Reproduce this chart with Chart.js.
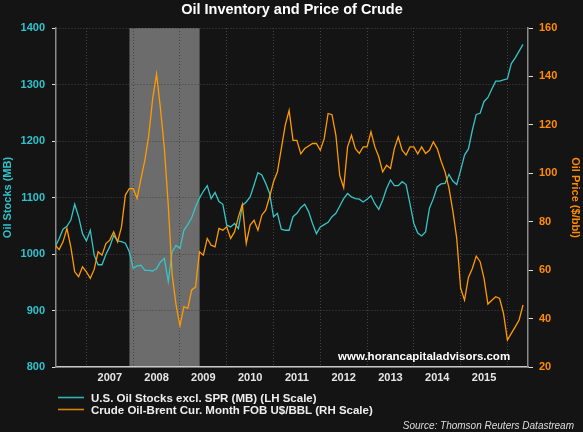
<!DOCTYPE html>
<html>
<head>
<meta charset="utf-8">
<script src="https://cdn.jsdelivr.net/npm/chart.js@4.4.1/dist/chart.umd.min.js"></script>
<style>
    html, body { margin: 0; padding: 0; background: #141414; }
    canvas { display: block; }
</style>
</head>
<body>
<canvas id="chartOil" width="583" height="432"></canvas>
<script>
// monthly readings, May 2006 .. May 2016
const stocks = [
    1013, 1027, 1044, 1049, 1060, 1088, 1066, 1036,
    1023, 1042, 998, 981, 981, 999, 1013, 1033, 1023, 1022, 1019, 1004,
    975, 979, 980, 971, 971, 970, 974, 986, 992, 951, 1004, 1015,
    1010, 1042, 1052, 1064, 1083, 1099, 1111, 1121, 1098, 1109, 1093, 1088,
    1051, 1048, 1054, 1045, 1086, 1092, 1101, 1122, 1144, 1140, 1125, 1107,
    1066, 1072, 1044, 1042, 1042, 1066, 1072, 1082, 1088, 1075, 1054, 1036,
    1048, 1052, 1056, 1066, 1072, 1085, 1098, 1107, 1101, 1098, 1097, 1092,
    1097, 1103, 1089, 1079, 1095, 1116, 1131, 1121, 1121, 1128, 1123, 1089,
    1054, 1037, 1032, 1039, 1081, 1098, 1119, 1124, 1125, 1141, 1129, 1123,
    1148, 1175, 1186, 1219, 1247, 1249, 1270, 1277, 1292, 1306, 1306, 1308,
    1310, 1337, 1347, 1359, 1371
];

const brent = [
    70.3, 68.5, 71.7, 77.2, 69.6, 59.3, 57.3, 61.4,
    59.3, 56.6, 60.3, 67.6, 66.2, 71.0, 72.4, 75.8, 71.7, 77.9, 91.0, 93.7,
    93.7, 89.6, 97.8, 105.4, 115.7, 130.8, 141.0, 126.7, 110.2, 86.8, 58.0, 45.6,
    37.0, 44.9, 44.2, 51.8, 53.0, 67.6, 66.2, 73.1, 70.3, 69.6, 77.2, 76.5,
    77.9, 73.1, 75.8, 82.0, 87.1, 71.0, 78.6, 80.6, 76.5, 82.7, 84.8, 90.3,
    96.5, 100.6, 110.2, 119.8, 126.0, 113.6, 113.6, 108.0, 110.2, 111.3, 112.3, 112.3,
    109.5, 114.3, 124.7, 124.2, 115.7, 99.0, 94.0, 110.9, 115.7, 110.2, 108.2, 110.9,
    110.9, 117.1, 110.9, 106.8, 100.6, 103.3, 102.0, 110.2, 115.0, 109.5, 107.5, 110.9,
    110.9, 108.0, 110.9, 108.2, 109.5, 113.0, 110.2, 105.0, 100.6, 94.0, 84.5, 73.1,
    52.5, 47.6, 57.0, 60.7, 65.8, 63.5, 56.6, 46.0, 47.6, 49.0, 48.3, 42.1,
    31.1, 33.9, 36.6, 39.4, 45.6
];

// decimal year of each reading
const months = stocks.map((_, i) => 2006 + (4 + i) / 12);

const yearLabels = [2007, 2008, 2009, 2010, 2011, 2012, 2013, 2014, 2015];
const yearBounds = [2007, 2008, 2009, 2010, 2011, 2012, 2013, 2014, 2015, 2016];
const recession = [2007.92, 2009.42];

const colorStocks = '#36c4c6';
const colorBrent = '#ff9a00';
const fontFam = '"Liberation Sans", Arial, sans-serif';

const decoraciones = {
    id: 'decoraciones',
    beforeDraw(chart) {
        const { ctx, chartArea: a, scales: { x } } = chart;
        ctx.save();
        ctx.fillStyle = '#141414';
        ctx.fillRect(0, 0, chart.width, chart.height);
        const x1 = x.getPixelForValue(recession[0]);
        const x2 = x.getPixelForValue(recession[1]);
        ctx.fillStyle = '#6c6c6c';
        ctx.fillRect(x1, a.top, x2 - x1, a.bottom - a.top);
        ctx.restore();
    },
    afterDraw(chart) {
        const ctx = chart.ctx;
        ctx.save();
        // titulo
        ctx.fillStyle = '#ffffff';
        ctx.font = 'bold 14.5px ' + fontFam;
        ctx.textAlign = 'center';
        ctx.fillText('Oil Inventory and Price of Crude', 292, 14);

        // marca
        ctx.textAlign = 'left';
        ctx.font = 'bold 11.5px ' + fontFam;
        ctx.fillText('www.horancapitaladvisors.com', 338, 360);

        // leyenda
        ctx.lineWidth = 1.6;
        ctx.strokeStyle = '#2fb3b5';
        ctx.beginPath(); ctx.moveTo(58, 397.5); ctx.lineTo(84, 397.5); ctx.stroke();
        ctx.strokeStyle = '#d98300';
        ctx.beginPath(); ctx.moveTo(58, 409.5); ctx.lineTo(84, 409.5); ctx.stroke();
        ctx.fillStyle = '#eeeeee';
        ctx.fillText('U.S. Oil Stocks excl. SPR (MB) (LH Scale)', 91, 401.5);
        ctx.fillText('Crude Oil-Brent Cur. Month FOB U$/BBL (RH Scale)', 91, 414.3);

        // fuente
        ctx.textAlign = 'right';
        ctx.font = 'italic 10px ' + fontFam;
        ctx.fillStyle = '#dddddd';
        ctx.fillText('Source: Thomson Reuters Datastream', 574, 428.5);
        ctx.restore();
    }
};

const xTicks = yearBounds.concat(yearLabels.map(y => y + 0.5));

new Chart(document.getElementById('chartOil').getContext('2d'), {
    type: 'line',
    data: {
        datasets: [
            {
                label: 'U.S. Oil Stocks excl. SPR (MB) (LH Scale)',
                data: months.map((t, i) => ({ x: t, y: stocks[i] })),
                borderColor: colorStocks,
                yAxisID: 'y',
                order: 1
            },
            {
                label: 'Crude Oil-Brent Cur. Month FOB U$/BBL (RH Scale)',
                data: months.map((t, i) => ({ x: t, y: brent[i] })),
                borderColor: colorBrent,
                yAxisID: 'y1',
                order: 0
            }
        ]
    },
    options: {
        responsive: false,
        animation: false,
        devicePixelRatio: 1,
        layout: { padding: { top: 28, right: 0, bottom: 0, left: 0 } },
        elements: {
            point: { radius: 0 },
            line: { borderWidth: 1.3, tension: 0 }
        },
        plugins: {
            legend: { display: false },
            tooltip: { enabled: false }
        },
        scales: {
            x: {
                type: 'linear',
                min: 2006.35,
                max: 2016.44,
                afterBuildTicks: s => { s.ticks = xTicks.map(v => ({ value: v })); },
                afterFit: s => { s.height = 65; },
                grid: {
                    color: c => (c.tick && Number.isInteger(c.tick.value)) ? '#444444' : 'rgba(0,0,0,0)',
                    drawTicks: false
                },
                border: { color: '#c8c8c8', width: 1.5, dash: [1, 2] },
                ticks: {
                    autoSkip: false,
                    maxRotation: 0,
                    padding: 4,
                    color: '#e6e6e6',
                    font: { family: fontFam, size: 11, weight: 'bold' },
                    callback: v => Number.isInteger(v) ? '' : String(Math.floor(v))
                }
            },
            y: {
                position: 'left',
                min: 800,
                max: 1400,
                afterFit: s => { s.width = 56; },
                ticks: {
                    stepSize: 100,
                    padding: 7,
                    color: '#2ec3cc',
                    font: { family: fontFam, size: 11, weight: 'bold' },
                    callback: v => String(v)
                },
                grid: { color: '#444444', tickColor: '#dddddd', tickLength: 4 },
                border: { color: '#8a8a8a', width: 1.5, dash: [1, 2] },
                title: {
                    display: true,
                    text: 'Oil Stocks (MB)',
                    color: '#2ec3cc',
                    padding: 1,
                    font: { family: fontFam, size: 11, weight: 'bold' }
                }
            },
            y1: {
                position: 'right',
                min: 20,
                max: 160,
                afterFit: s => { s.width = 55; },
                ticks: {
                    stepSize: 20,
                    padding: 6,
                    color: '#ff8c00',
                    font: { family: fontFam, size: 11, weight: 'bold' },
                    callback: v => String(v)
                },
                grid: { drawOnChartArea: false, tickColor: '#dddddd', tickLength: 5 },
                border: { color: '#8a8a8a', width: 1.5 },
                title: {
                    display: true,
                    text: 'Oil Price ($/bbl)',
                    color: '#ff8c00',
                    padding: 1,
                    font: { family: fontFam, size: 11, weight: 'bold' }
                }
            }
        }
    },
    plugins: [decoraciones]
});
</script>
</body>
</html>
